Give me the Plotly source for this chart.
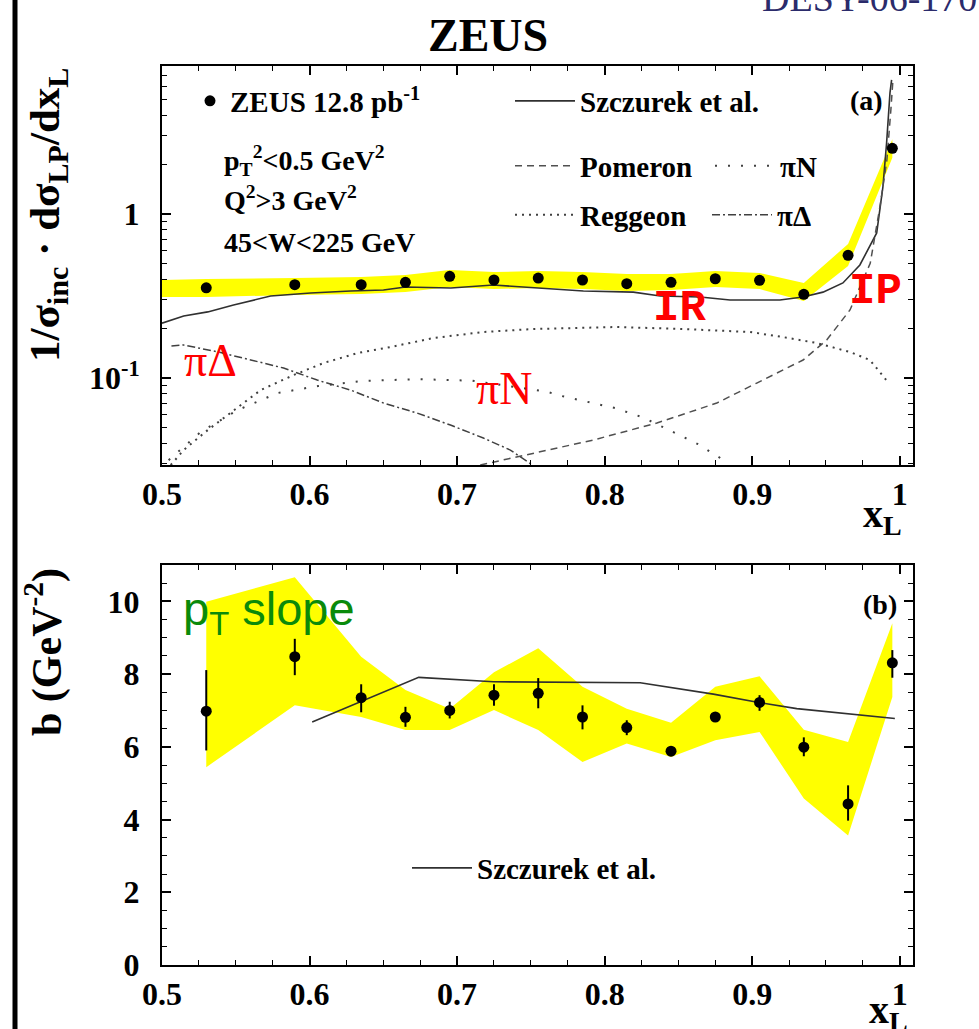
import plotly.graph_objects as go

W, H = 979, 1029

# ---------------- panel (a): data ----------------
xl_points = [0.53, 0.59, 0.635, 0.665, 0.695, 0.725, 0.755, 0.785, 0.815,
             0.845, 0.875, 0.905, 0.935, 0.965, 0.995]
dsig_vals = [0.355, 0.371, 0.371, 0.383, 0.417, 0.396, 0.407, 0.396, 0.376,
             0.383, 0.403, 0.394, 0.324, 0.560, 2.515]

band_a_x = [0.5, 0.53, 0.59, 0.635, 0.665, 0.695, 0.725, 0.755, 0.785, 0.815,
            0.845, 0.875, 0.905, 0.935, 0.965, 0.995]
band_a_hi = [0.396, 0.402, 0.407, 0.413, 0.425, 0.456, 0.443, 0.449, 0.443, 0.431,
             0.431, 0.449, 0.437, 0.380, 0.656, 2.85]
band_a_lo = [0.312, 0.312, 0.321, 0.325, 0.334, 0.359, 0.349, 0.354, 0.349, 0.339,
             0.344, 0.359, 0.349, 0.295, 0.482, 2.20]

szcz_a_x = [0.500, 0.5147, 0.531, 0.5485, 0.5736, 0.6007, 0.6278, 0.6501, 0.665, 0.6958,
            0.7246, 0.7544, 0.7856, 0.8194, 0.8377, 0.8648, 0.885, 0.9188, 0.9344, 0.948,
            0.9615, 0.973, 0.9844, 0.9886, 0.9911, 0.9934, 0.9945]
szcz_a_y = [0.216, 0.239, 0.253, 0.279, 0.316, 0.330, 0.339, 0.344, 0.359, 0.354,
            0.369, 0.354, 0.339, 0.334, 0.316, 0.312, 0.299, 0.299, 0.312, 0.334,
            0.380, 0.489, 0.766, 1.46, 2.71, 5.47, 6.56]

pom_x = [0.7157, 0.7406, 0.7767, 0.7923, 0.8354, 0.876, 0.9031, 0.9345, 0.9505, 0.9663,
         0.9753, 0.980, 0.9866, 0.9913, 0.994, 0.9954]
pom_y = [0.0295, 0.0331, 0.039, 0.0419, 0.0532, 0.0704, 0.0932, 0.1288, 0.1706, 0.260,
         0.400, 0.500, 1.108, 2.13, 4.31, 6.56]

reg_x = [0.5059, 0.5147, 0.531, 0.5486, 0.5669, 0.5892, 0.6095, 0.6325, 0.6549, 0.684,
         0.7178, 0.7517, 0.7767, 0.8085, 0.8532, 0.8986, 0.9208, 0.9439, 0.9662, 0.9798, 0.992]
reg_y = [0.0295, 0.0364, 0.0482, 0.0638, 0.0845, 0.1043, 0.1235, 0.142, 0.1545, 0.1754,
         0.1908, 0.199, 0.2018, 0.2047, 0.199, 0.1908, 0.1778, 0.1634, 0.1442, 0.1288, 0.0946]

pin_x = [0.5045, 0.5262, 0.5513, 0.5783, 0.6058, 0.6351, 0.6547, 0.6739, 0.7104, 0.7609,
         0.7701, 0.7884, 0.8077, 0.8264, 0.8447, 0.8632, 0.8799, 0.883]
pin_y = [0.0316, 0.0469, 0.0638, 0.081, 0.0894, 0.0959, 0.0972, 0.0985, 0.0963, 0.0825,
         0.078, 0.0717, 0.0654, 0.0573, 0.0475, 0.0396, 0.0319, 0.0295]

pid_x = [0.5064, 0.5147, 0.5375, 0.56, 0.5824, 0.6052, 0.6278, 0.6501, 0.6729, 0.6955,
         0.7178, 0.7361, 0.7496, 0.751]
pid_y = [0.1567, 0.159, 0.1446, 0.1288, 0.1151, 0.0972, 0.0845, 0.0704, 0.0612, 0.0517,
         0.0431, 0.0364, 0.0303, 0.0295]

# ---------------- panel (b): data ----------------
b_vals = [6.98, 8.48, 7.35, 6.81, 7.00, 7.42, 7.47, 6.82, 6.53, 5.88, 6.82, 7.22, 5.99, 4.43, 8.31]
b_err_up = [1.13, 0.49, 0.37, 0.29, 0.24, 0.30, 0.42, 0.32, 0.20, 0.10, 0.10, 0.20, 0.27, 0.51, 0.35]
b_err_dn = [1.08, 0.51, 0.40, 0.26, 0.22, 0.29, 0.41, 0.34, 0.21, 0.10, 0.10, 0.23, 0.25, 0.46, 0.41]
band_b_hi = [9.99, 10.66, 8.48, 7.56, 7.05, 8.05, 8.71, 7.65, 7.05, 6.66, 7.65, 7.94, 6.47, 6.13, 9.40]
band_b_lo = [5.44, 7.14, 6.82, 6.46, 6.46, 7.01, 6.46, 5.58, 6.09, 5.72, 6.18, 6.41, 4.58, 3.56, 7.37]

szcz_b_x = [0.6018, 0.674, 0.7246, 0.8241, 0.8737, 0.9045, 0.9302, 0.964, 0.9967]
szcz_b_y = [6.68, 7.91, 7.79, 7.76, 7.45, 7.22, 7.05, 6.92, 6.78]

x_ticks = [0.5, 0.6, 0.7, 0.8, 0.9, 1.0]
x_ticktext = ["0.5", "0.6", "0.7", "0.8", "0.9", "1"]
ya_ticks = [0.1, 1]
ya_ticktext = ["10<sup>-1</sup>", "1"]
ya_minor = [0.03, 0.04, 0.05, 0.06, 0.07, 0.08, 0.09,
            0.2, 0.3, 0.4, 0.5, 0.6, 0.7, 0.8, 0.9, 2, 3, 4, 5, 6, 7]
yb_ticks = [0, 2, 4, 6, 8, 10]

# ---------------- figure ----------------
SERIF = "Liberation Serif"
YELLOW = "#ffff00"
LINEC = "#303030"

fig = go.Figure()

# panel (a)
fig.add_trace(go.Scatter(
    x=band_a_x + band_a_x[::-1], y=band_a_hi + band_a_lo[::-1],
    fill="toself", fillcolor=YELLOW, line=dict(width=0), mode="lines",
    showlegend=False, hoverinfo="skip", xaxis="x", yaxis="y"))
fig.add_trace(go.Scatter(x=szcz_a_x, y=szcz_a_y, mode="lines",
                         line=dict(color=LINEC, width=1.6), name="Szczurek et al.",
                         legend="legend2", xaxis="x", yaxis="y"))
fig.add_trace(go.Scatter(x=pom_x, y=pom_y, mode="lines",
                         line=dict(color="#505050", width=1.5, dash="7px,5px"), name="Pomeron",
                         legend="legend3", xaxis="x", yaxis="y"))
fig.add_trace(go.Scatter(x=reg_x, y=reg_y, mode="lines",
                         line=dict(color="#404040", width=2, dash="2px,5px"), name="Reggeon",
                         legend="legend4", xaxis="x", yaxis="y"))
fig.add_trace(go.Scatter(x=pin_x, y=pin_y, mode="lines",
                         line=dict(color="#404040", width=2, dash="2px,11px"), name="πN",
                         legend="legend5", xaxis="x", yaxis="y"))
fig.add_trace(go.Scatter(x=pid_x, y=pid_y, mode="lines",
                         line=dict(color="#404040", width=1.5, dash="8px,3px,2px,3px"), name="πΔ",
                         legend="legend6", xaxis="x", yaxis="y"))
fig.add_trace(go.Scatter(x=xl_points, y=dsig_vals, mode="markers",
                         marker=dict(color="black", size=11), name="ZEUS 12.8 pb<sup>-1</sup>",
                         legend="legend", xaxis="x", yaxis="y"))

# panel (b)
fig.add_trace(go.Scatter(
    x=xl_points + xl_points[::-1], y=band_b_hi + band_b_lo[::-1],
    fill="toself", fillcolor=YELLOW, line=dict(width=0), mode="lines",
    showlegend=False, hoverinfo="skip", xaxis="x2", yaxis="y2"))
fig.add_trace(go.Scatter(x=szcz_b_x, y=szcz_b_y, mode="lines",
                         line=dict(color=LINEC, width=1.6), name="Szczurek et al.",
                         legend="legend7", xaxis="x2", yaxis="y2"))
fig.add_trace(go.Scatter(x=xl_points, y=b_vals, mode="markers",
                         marker=dict(color="black", size=11),
                         error_y=dict(type="data", array=b_err_up, arrayminus=b_err_dn,
                                      color="black", thickness=2, width=0),
                         showlegend=False, xaxis="x2", yaxis="y2"))

TICKFONT = dict(family=SERIF, size=32, color="black", weight="bold")
common_x = dict(range=[0.5, 1.009], tickmode="array", tickvals=x_ticks, ticktext=x_ticktext,
                ticks="inside", ticklen=9, tickwidth=1.5, tickcolor="black",
                minor=dict(dtick=0.025, tick0=0.5, ticks="inside", ticklen=5, tickwidth=1.2,
                           tickcolor="black"),
                showline=True, linecolor="black", linewidth=2, mirror="ticks",
                showgrid=False, zeroline=False, tickfont=TICKFONT, automargin=False)

dx = [162 / W, 913 / W]
fig.update_layout(
    width=W, height=H, autosize=False,
    margin=dict(l=0, r=0, t=0, b=0, pad=0, autoexpand=False),
    paper_bgcolor="white", plot_bgcolor="white",
    xaxis=dict(domain=dx, anchor="y", **common_x),
    yaxis=dict(domain=[1 - 465 / H, 1 - 66 / H], anchor="x", type="log",
               range=[-1.53, 0.902], tickmode="array", tickvals=ya_ticks, ticktext=ya_ticktext,
               ticks="inside", ticklen=9, tickwidth=1.5, tickcolor="black",
               minor=dict(tickmode="array", tickvals=ya_minor, ticks="inside", ticklen=5,
                          tickwidth=1.2, tickcolor="black"),
               showline=True, linecolor="black", linewidth=2, mirror="ticks",
               showgrid=False, zeroline=False, tickfont=TICKFONT, ticklabelstandoff=14,
               automargin=False),
    xaxis2=dict(domain=dx, anchor="y2", **common_x),
    yaxis2=dict(domain=[1 - 965 / H, 1 - 565 / H], anchor="x2", range=[0, 11],
                tickmode="array", tickvals=yb_ticks,
                ticks="inside", ticklen=9, tickwidth=1.5, tickcolor="black",
                minor=dict(dtick=0.5, tick0=0, ticks="inside", ticklen=5, tickwidth=1.2,
                           tickcolor="black"),
                showline=True, linecolor="black", linewidth=2, mirror="ticks",
                showgrid=False, zeroline=False, tickfont=TICKFONT, ticklabelstandoff=14,
                automargin=False),
)

LEGFONT = dict(family=SERIF, size=29, color="black", weight="bold")


def leg(px, py, iw=30):
    return dict(x=px / W, y=1 - py / H, xanchor="left", yanchor="middle",
                bgcolor="rgba(0,0,0,0)", borderwidth=0, font=LEGFONT, itemwidth=iw,
                itemclick=False, itemdoubleclick=False)


fig.update_layout(
    legend=leg(190, 101),
    legend2=leg(510, 101, 60),
    legend3=leg(510, 166, 60),
    legend4=leg(510, 215, 60),
    legend5=leg(710, 166, 60),
    legend6=leg(707, 215, 60),
    legend7=leg(407, 868, 60),
)


def P(px, py):
    return px / W, 1 - py / H


annots = []


def add_text(px, py, text, size, color="black", family=SERIF, weight="bold",
             xanchor="center", angle=0):
    x, y = P(px, py)
    annots.append(dict(x=x, y=y, xref="paper", yref="paper", text=text, showarrow=False,
                       xanchor=xanchor, yanchor="middle", textangle=angle,
                       font=dict(family=family, size=size, color=color, weight=weight)))


add_text(488, 35, "ZEUS", 46)
add_text(760, -2, "DESY-06-170", 38, color="#2b2b6b", weight="normal", xanchor="left")
add_text(222, 160, "p<sub>T</sub><sup>2</sup>&lt;0.5 GeV<sup>2</sup>", 28, xanchor="left")
add_text(222, 198, "Q<sup>2</sup>&gt;3 GeV<sup>2</sup>", 28, xanchor="left")
add_text(222, 243, "45&lt;W&lt;225 GeV", 28, xanchor="left")
add_text(866, 101, "(a)", 28)
add_text(880, 604, "(b)", 28)
add_text(48, 215, "1/σ<sub>inc</sub> · dσ<sub>LP</sub>/dx<sub>L</sub>", 43, angle=-90)
add_text(44, 652, "b (GeV<sup>-2</sup>)", 42, angle=-90)
add_text(882, 516, "x<sub>L</sub>", 40)
add_text(888, 1012, "x<sub>L</sub>", 40)
# red / green hand annotations
add_text(210, 360, "πΔ", 46, color="red", weight="normal")
add_text(504, 388, "πN", 46, color="red", weight="normal")
add_text(679, 308, "IR", 44, color="red", family="Liberation Mono", weight="bold")
add_text(875, 291, "IP", 44, color="red", family="Liberation Mono", weight="bold")
add_text(269, 612, "p<sub>T</sub> slope", 47, color="#0a8a0a", family="Liberation Sans",
         weight="normal")

fig.update_layout(annotations=annots)

fig.add_shape(type="line", xref="paper", yref="paper", x0=15 / W, x1=15 / W, y0=0, y1=1,
              line=dict(color="black", width=5))

fig.write_html("out.html")
